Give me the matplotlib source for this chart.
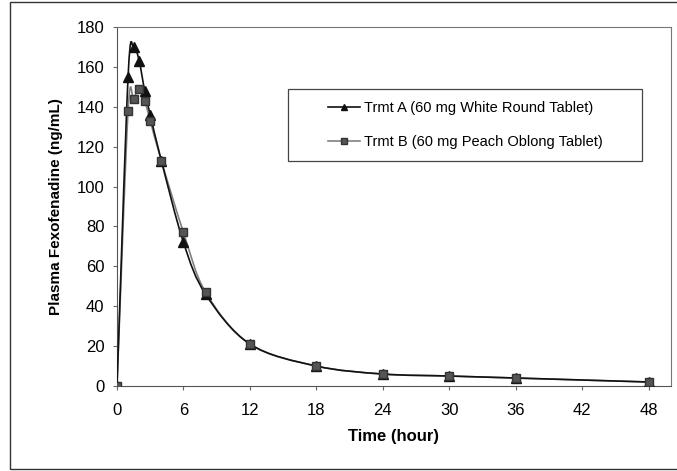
import numpy as np
import matplotlib.pyplot as plt
from matplotlib.path import Path
from matplotlib.patches import PathPatch, Rectangle
from matplotlib.lines import Line2D

plt.rcParams['font.family'] = ['Liberation Sans', 'DejaVu Sans']

# sampling times (h) and mean plasma concentrations (ng/mL)
time_h = [0, 1, 1.5, 2, 2.5, 3, 4, 6, 8, 12, 18, 24, 30, 36, 48]
trmt_a = [0, 155, 170, 163, 148, 136, 113, 72, 46, 21, 10, 6, 5, 4, 2]
trmt_b = [0, 138, 144, 149, 143, 133, 113, 77, 47, 21, 10, 6, 5, 4, 2]

label_a = 'Trmt A (60 mg White Round Tablet)'
label_b = 'Trmt B (60 mg Peach Oblong Tablet)'
x_ticks = [0, 6, 12, 18, 24, 30, 36, 42, 48]
y_ticks = [0, 20, 40, 60, 80, 100, 120, 140, 160, 180]


def smooth_path(x, y):
    # excel style smoothed line: cubic bezier through the points
    p = np.column_stack([x, y]).astype(float)
    ext = np.vstack([p[0], p, p[-1]])
    verts = [p[0]]
    codes = [Path.MOVETO]
    for i in range(len(p) - 1):
        p0, p1, p2, p3 = ext[i], ext[i + 1], ext[i + 2], ext[i + 3]
        verts += [p1 + (p2 - p0) / 6, p2 - (p3 - p1) / 6, p2]
        codes += [Path.CURVE4] * 3
    return Path(verts, codes)


fig = plt.figure(figsize=(6.77, 4.71), dpi=100)
ax = fig.add_axes([117 / 677, 1 - 386 / 471, 554 / 677, 359 / 471])

col_a = '#111111'
col_b = '#808080'

ax.add_patch(PathPatch(smooth_path(time_h, trmt_b), fill=False, edgecolor=col_b, lw=1.2, zorder=2))
ax.add_patch(PathPatch(smooth_path(time_h, trmt_a), fill=False, edgecolor=col_a, lw=1.2, zorder=3))
ax.plot(time_h, trmt_a, ls='none', marker='^', ms=7, color=col_a, zorder=4)
ax.plot(time_h, trmt_b, ls='none', marker='s', ms=5.5, color='#555555', mec='#333333', zorder=5)

ax.set_xlim(0, 50)
ax.set_ylim(0, 180)
ax.set_xticks(x_ticks)
ax.set_yticks(y_ticks)
ax.tick_params(labelsize=12, length=3, width=0.8, color='#666666')
ax.tick_params(axis='x', pad=9)
ax.tick_params(axis='y', pad=6)
for s in ['left', 'bottom']:
    ax.spines[s].set_color('#555555')
for s in ['top', 'right']:
    ax.spines[s].set_color('#777777')
    ax.spines[s].set_linewidth(0.8)

ax.set_xlabel('Time (hour)', fontsize=12, fontweight='bold', labelpad=8)
ax.set_ylabel('Plasma Fexofenadine (ng/mL)', fontsize=11, fontweight='bold', labelpad=10)

# legend box
ax.add_patch(Rectangle((171 / 554, (386 - 161) / 359), 354 / 554, 72 / 359,
                       transform=ax.transAxes, fill=False, edgecolor='#444444', lw=0.9, zorder=6))
handles = [Line2D([], [], color=col_a, lw=1.2, marker='^', ms=5),
           Line2D([], [], color=col_b, lw=1.2, marker='s', ms=4, mfc='#555555', mec='#333333')]
ax.legend(handles, [label_a, label_b], loc='center left', bbox_to_anchor=((332 - 117 - 4) / 554, (386 - 125) / 359),
          frameon=False, fontsize=10.5, handlelength=2.2, handletextpad=0.3, labelspacing=1.4,
          borderpad=0, borderaxespad=0)

# outer frame of the figure
fig.patches.append(Rectangle((10 / 677, 2 / 471), 1.0, 467 / 471, transform=fig.transFigure,
                             fill=False, edgecolor='#333333', lw=1.0))

fig.savefig('out.png', dpi=100)
